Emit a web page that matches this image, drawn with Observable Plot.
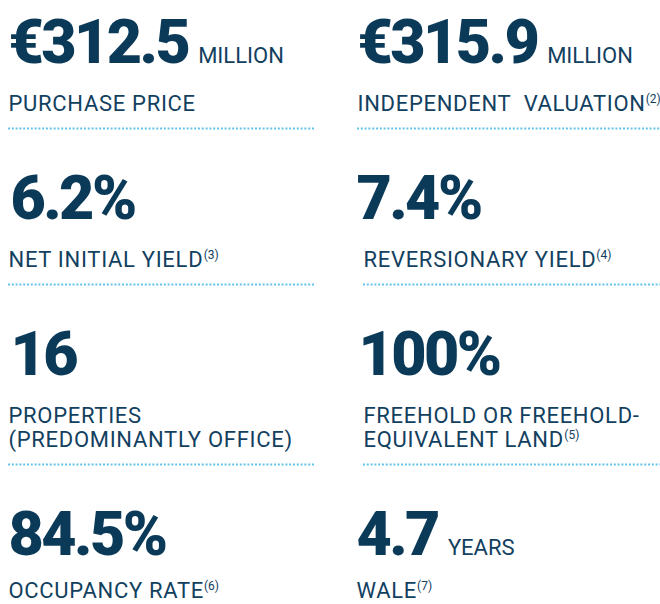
<!DOCTYPE html>
<html><head><meta charset="utf-8">
<script src="https://cdn.jsdelivr.net/npm/d3@7"></script>
<script src="https://cdn.jsdelivr.net/npm/@observablehq/plot@0.6"></script>
<style>html,body{margin:0;padding:0;background:#fff}svg{display:block}</style>
</head><body><div id="chart"></div>
<script>
// ---- data ----
const figures = ["€312.5", "€315.9", "6.2%", "7.4%", "16", "100%", "84.5%", "4.7"];
const units   = ["MILLION", "MILLION", "", "", "", "", "", "YEARS"];
const labels  = [
  ["PURCHASE PRICE"],
  ["INDEPENDENT\u00a0 VALUATION"],
  ["NET INITIAL YIELD"],
  ["REVERSIONARY YIELD"],
  ["PROPERTIES", "(PREDOMINANTLY OFFICE)"],
  ["FREEHOLD OR FREEHOLD-", "EQUIVALENT LAND"],
  ["OCCUPANCY RATE"],
  ["WALE"]
];
const notes   = ["", "(2)", "(3)", "(4)", "", "(5)", "(6)", "(7)"];

// ---- layout & style ----
const W = 660, H = 604;
const NAVY = "#0b3a59", LABEL = "#12405f", DOTS = "#62c3ec";
const NUM_FONT = "Roboto", NUM_WEIGHT = 900, NUM_SIZE = 61, NUM_LS = -2.6;
const LBL_FONT = "Roboto", LBL_SIZE = 22, LBL_LS = 0.7, NOTE_SIZE = 12;
const colX = [8, 357];
const colEnd = [315, 660];
const labelDx = [[0, 0], [0, 6], [0, 6], [0, -1]]; // per row, per column
const numDx = [[0, 0], [2, -1], [2, 1], [0, -1]];

const ctx = document.createElement("canvas").getContext("2d");
function measure(text, font, ls) { ctx.font = font; return ctx.measureText(text).width + ls * [...text].length; }

const nRows = Math.ceil(figures.length / 2);
const rowNumY = [], rowLabelY = [], rowLineY = [];
let prevLine = -28;
for (let r = 0; r < nRows; r++) {
  const numY = prevLine + 90;
  const nl = Math.max(labels[2*r].length, labels[2*r+1] ? labels[2*r+1].length : 1);
  const lab = d3.range(nl).map(k => numY + 48 + k * 24);
  const lineY = lab[lab.length - 1] + 18;
  rowNumY.push(numY); rowLabelY.push(lab); rowLineY.push(lineY);
  prevLine = lineY;
}

const numRows = [], unitRows = [], labelRows = [], noteRows = [], lineRows = [];
figures.forEach((f, i) => {
  const r = Math.floor(i / 2), c = i % 2;
  const nx = colX[c] + numDx[r][c];
  numRows.push({x: nx, y: rowNumY[r], text: f});
  if (units[i]) {
    const w = measure(f, `${NUM_WEIGHT} ${NUM_SIZE}px ${NUM_FONT}`, NUM_LS);
    unitRows.push({x: nx + w + 10, y: rowNumY[r], text: units[i]});
  }
  const lx = colX[c] + labelDx[r][c];
  const lastRow = r === nRows - 1 ? -5 : 0;
  labels[i].forEach((t, k) => labelRows.push({x: lx, y: rowLabelY[r][k] + lastRow, text: t}));
  if (notes[i]) {
    const last = labels[i][labels[i].length - 1];
    const w = measure(last, `400 ${LBL_SIZE}px ${LBL_FONT}`, LBL_LS);
    noteRows.push({x: lx + w, y: rowLabelY[r][labels[i].length - 1] + lastRow - 8, text: notes[i]});
  }
  if (r < nRows - 1) lineRows.push({x1: lx, x2: colEnd[c], y: rowLineY[r]});
});

const chart = Plot.plot({
  width: W, height: H,
  margin: 0,
  x: {domain: [0, W], range: [0, W], axis: null},
  y: {domain: [0, H], range: [0, H], axis: null},
  style: {background: "#fff"},
  marks: [
    Plot.ruleY(lineRows, {y: "y", x1: "x1", x2: "x2", stroke: DOTS, strokeWidth: 2, strokeDasharray: "2 1.8"}),
    Plot.text(numRows, {x: "x", y: "y", text: "text", textAnchor: "start", lineAnchor: "bottom",
      fontFamily: NUM_FONT, fontWeight: NUM_WEIGHT, fontSize: NUM_SIZE, fill: NAVY}),
    Plot.text(unitRows, {x: "x", y: "y", text: "text", textAnchor: "start", lineAnchor: "bottom",
      fontFamily: LBL_FONT, fontSize: LBL_SIZE, fill: LABEL}),
    Plot.text(labelRows, {x: "x", y: "y", text: "text", textAnchor: "start", lineAnchor: "bottom",
      fontFamily: LBL_FONT, fontSize: LBL_SIZE, fill: LABEL}),
    Plot.text(noteRows, {x: "x", y: "y", text: "text", textAnchor: "start", lineAnchor: "bottom",
      fontFamily: LBL_FONT, fontSize: NOTE_SIZE, fill: LABEL})
  ]
});
const groups = chart.querySelectorAll('g[aria-label="text"]');
groups[0].style.letterSpacing = NUM_LS + "px";
groups[2].style.letterSpacing = LBL_LS + "px";
document.getElementById("chart").appendChild(chart);
</script>
</body></html>
